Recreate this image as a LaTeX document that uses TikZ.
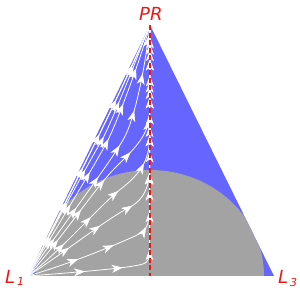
\documentclass[tikz,border=0pt]{standalone}
\usepackage{fontspec}
\setsansfont{DejaVu Sans}
\usetikzlibrary{decorations.markings,arrows.meta}
\definecolor{fblue}{RGB}{102,102,255}
\definecolor{fgray}{RGB}{163,163,163}
\definecolor{fred}{RGB}{238,22,22}
\begin{document}
\begin{tikzpicture}[x=1pt,y=-1pt,
  flow/.style={white, line width=0.8pt, postaction={decorate},
    decoration={markings, mark=between positions 0.16 and 0.97 step 38pt with {\arrow{Stealth[length=11pt,width=8pt,inset=3pt,white]}}}},
  lab/.style={text=fred, font=\sffamily\itshape\fontsize{18}{18}\selectfont, inner sep=0pt, anchor=base west}]
\useasboundingbox (0,0) rectangle (300,300);
\coordinate (L1) at (28,276);
\coordinate (PR) at (150,25);
\coordinate (L3) at (274,276);
\fill[fblue] (L1) -- (PR) -- (L3) -- cycle;
\begin{scope}
  \clip (L1) -- (PR) -- (L3) -- cycle;
  \fill[fgray] (150,276) ellipse [x radius=114pt, y radius=106pt];
\end{scope}
\draw[white, line width=0.8pt] (L1) -- (L3);
% lower streamlines
\draw[flow] (L1) .. controls (80,272) and (130,268) .. (143,264) .. controls (149,262) and (149.5,258) .. (149.5,248) -- (PR);
\draw[flow] (L1) .. controls (75,262) and (115,245) .. (135,236) .. controls (146,231) and (149.5,225) .. (149.5,210) -- (PR);
\draw[flow] (L1) .. controls (68,250) and (108,218) .. (130,207) .. controls (145,199) and (149.5,185) .. (149.5,168) -- (PR);
\draw[flow] (L1) .. controls (65,247) and (100,205) .. (122,188) .. controls (140,174) and (149.5,160) .. (149.5,138) -- (PR);
\draw[flow] (L1) .. controls (60,241) and (95,188) .. (115,168) .. controls (135,148) and (149.5,135) .. (149.5,112) -- (PR);
% upper streamlines
\draw[flow] (L1) .. controls (70,215) and (105,170) .. (123,140) .. controls (136,118) and (146,60) .. (PR);
\draw[flow] (L1) .. controls (62,218) and (95,165) .. (108,140) .. controls (118,120) and (142,55) .. (PR);
\draw[flow] (L1) .. controls (55,225) and (90,160) .. (102,140) .. controls (112,122) and (140,50) .. (PR);
\draw[flow] (L1) .. controls (53,228) and (85,162) .. (96.5,140) .. controls (106,122) and (141,48) .. (PR);
\draw[flow] (L1) .. controls (63,210) and (122,90) .. (PR);
\coordinate (B) at (150,276);
\draw[fred, line width=1.8pt, dash pattern=on 5pt off 2.5pt] (PR) -- (B);
\node[lab] (tPR) at (139,20) {PR};
\node[lab] (tL1) at (5,283) {L\hspace{1.8pt}\raisebox{-2pt}{\fontsize{11}{11}\selectfont 1}};
\node[lab] (tL3) at (278,283) {L\hspace{1.8pt}\raisebox{-3pt}{\fontsize{11}{11}\selectfont 3}};
\end{tikzpicture}
\end{document}
